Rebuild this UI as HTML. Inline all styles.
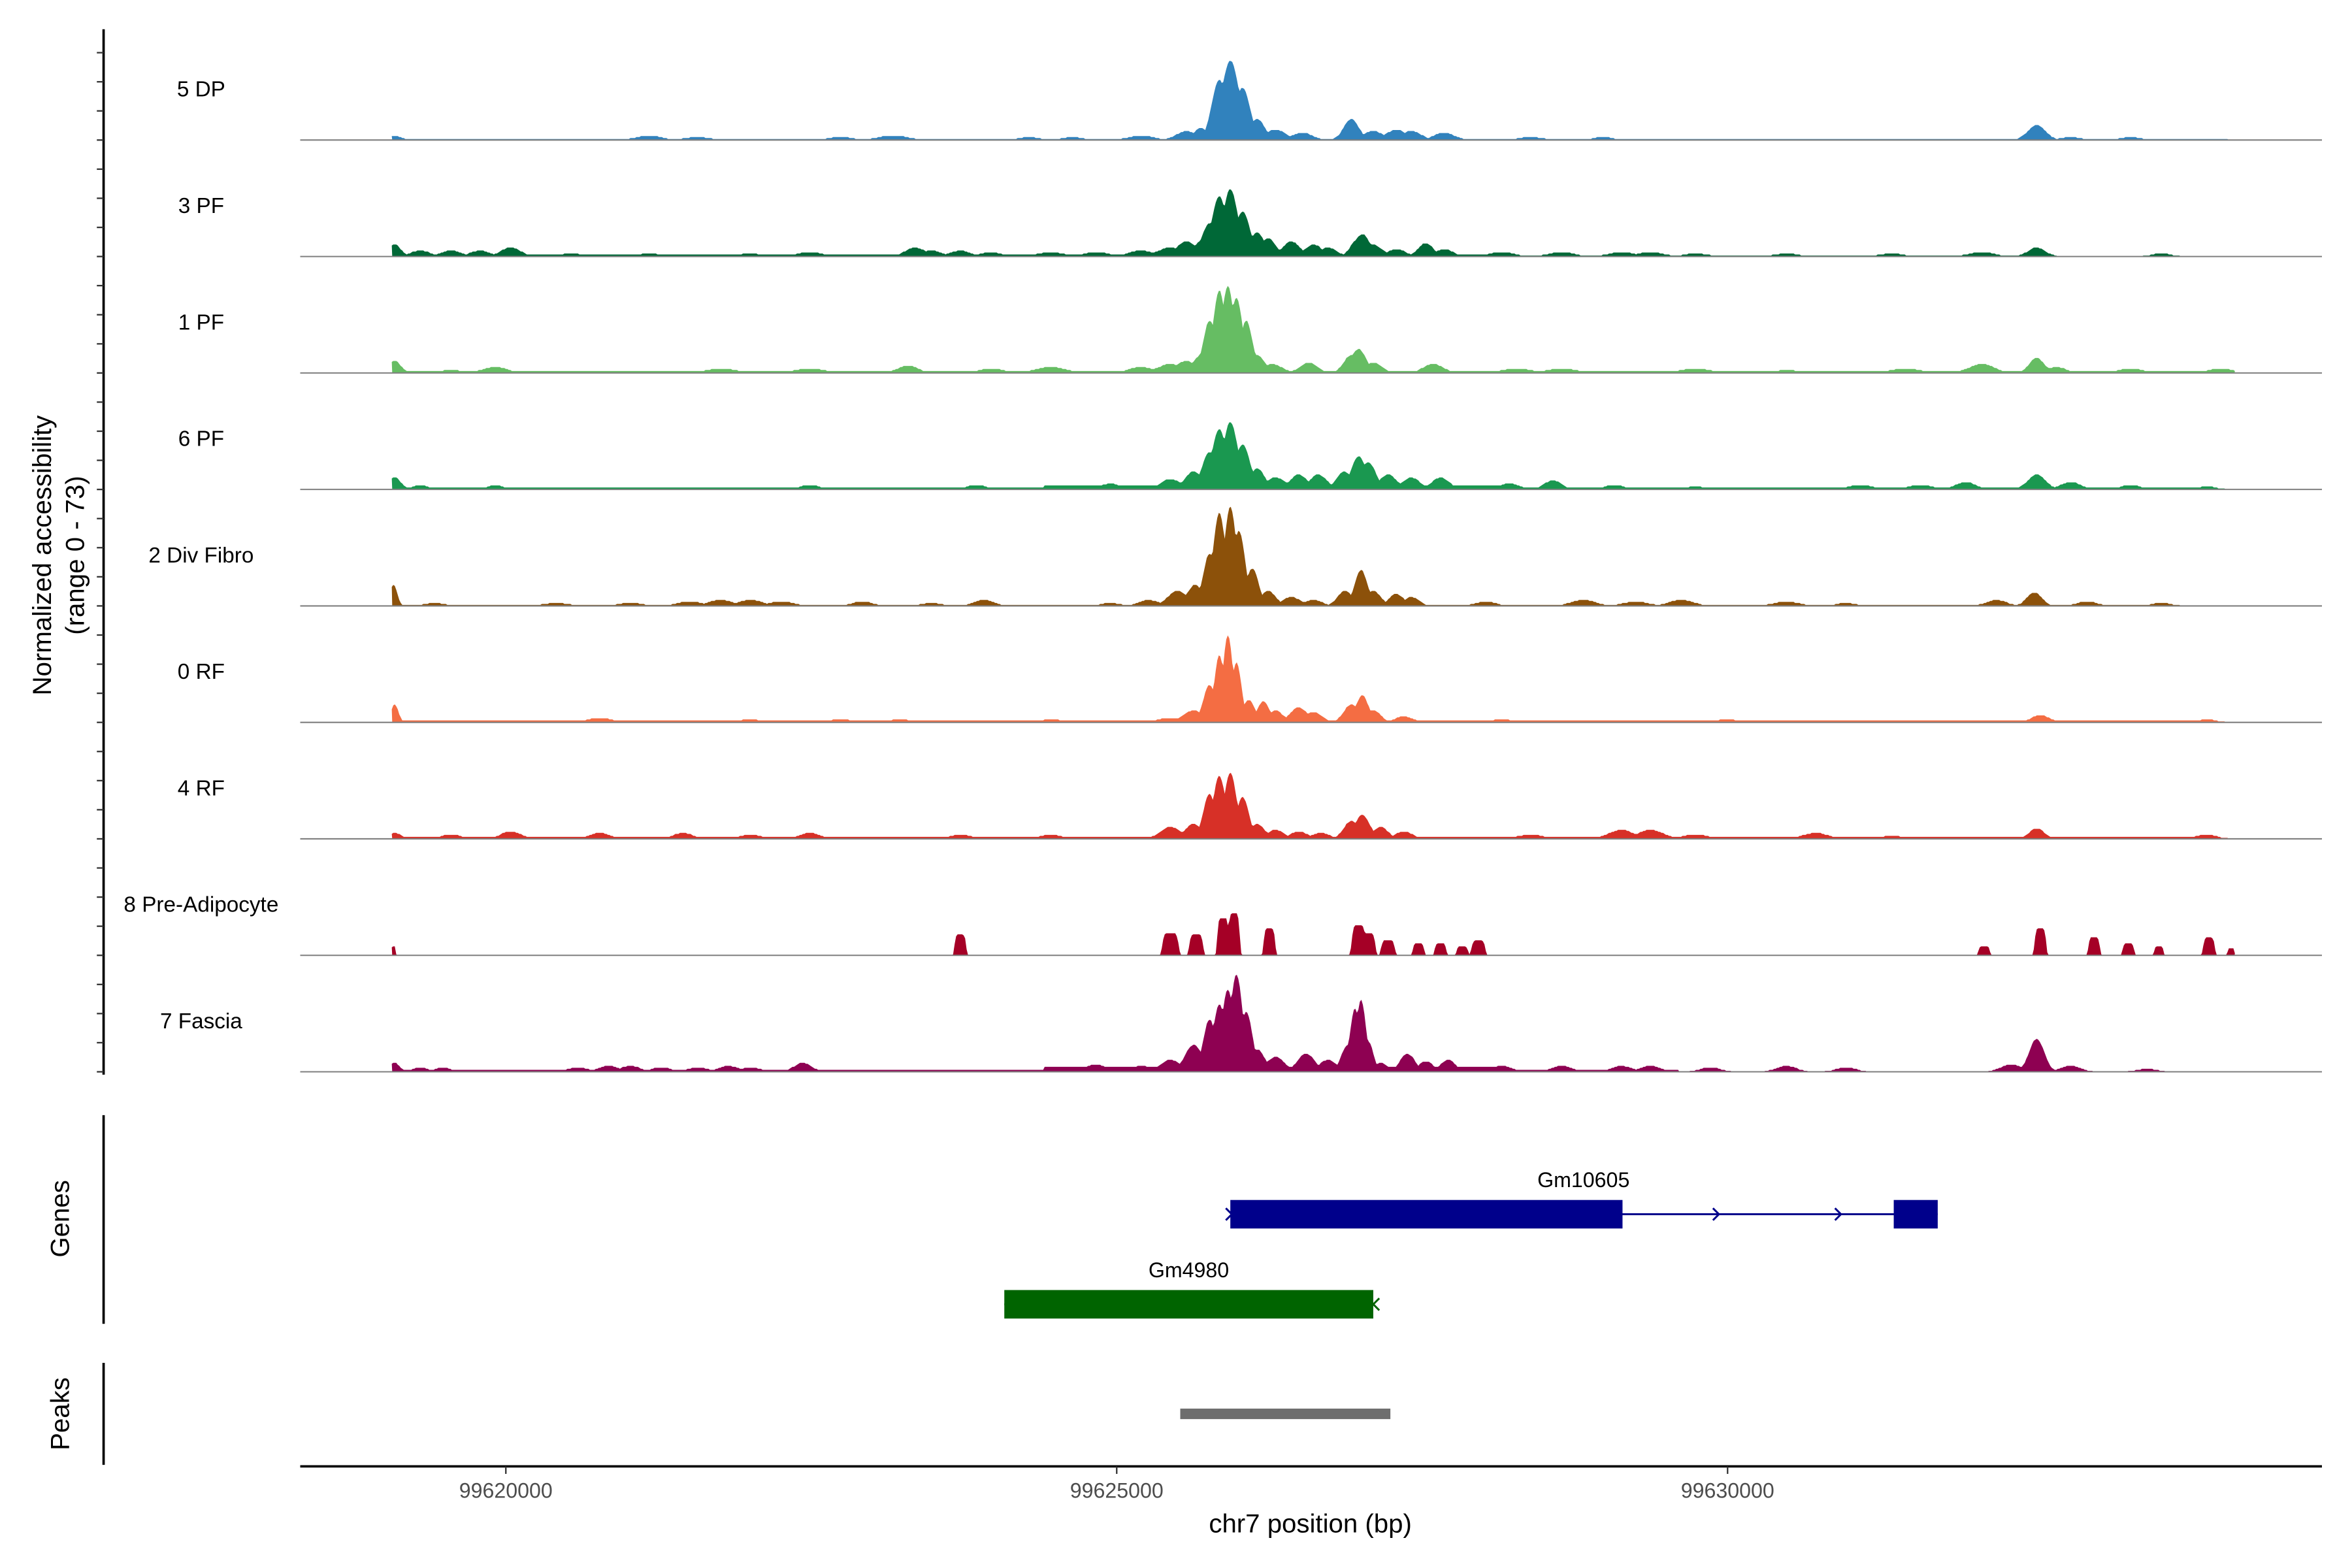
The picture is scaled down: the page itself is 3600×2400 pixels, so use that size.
<!DOCTYPE html>
<html><head><meta charset="utf-8"><style>
html,body{margin:0;padding:0;background:#fff;}
svg{display:block;font-family:"Liberation Sans",sans-serif;}
</style></head><body>
<svg id="chart" width="3600" height="2400" viewBox="0 0 1567 1044.7" xmlns="http://www.w3.org/2000/svg">
<rect x="0" y="0" width="1567" height="1045" fill="#fff"/>
<g id="tracks"></g>
<g id="yaxis"></g>
<text transform="translate(34,370) rotate(-90)" text-anchor="middle" font-size="17.5" fill="#000">Normalized accessibility</text>
<text transform="translate(56,370) rotate(-90)" text-anchor="middle" font-size="17.5" fill="#000">(range 0 - 73)</text>
<line x1="69" y1="743" x2="69" y2="882" stroke="#000" stroke-width="1.6"/>
<text transform="translate(46,812) rotate(-90)" text-anchor="middle" font-size="17.5">Genes</text>
<line x1="69" y1="908" x2="69" y2="976" stroke="#000" stroke-width="1.6"/>
<text transform="translate(46,942) rotate(-90)" text-anchor="middle" font-size="17.5">Peaks</text>
<g id="genes"></g>
<g id="peaks"></g>
<g id="xaxis"></g>
<text x="873" y="1021" text-anchor="middle" font-size="17.5">chr7 position (bp)</text>
</svg>
<script>
// positions in kb offset relative to 99,620,000 bp
const ORIGIN_BP = 99620000;
const trackNames = ["5 DP","3 PF","1 PF","6 PF","2 Div Fibro","0 RF","4 RF","8 Pre-Adipocyte","7 Fascia"];
const trackColors = ["#3182BD","#006837","#66BD63","#1A9850","#8C510A","#F46D43","#D73027","#A50026","#8E0152"];
const xTickValues = [0,5,10];
const xTickLabels = ["99620000","99625000","99630000"];
// peaks: [position kb, height (0-73), sigma kb]
const peaks5DP = [[-0.91,3,0.05],[1.17,3,0.1],[1.57,2,0.1],[2.74,2,0.1],[3.17,3,0.12],[4.28,2,0.08],[4.64,2,0.08],[5.20,3,0.1],[5.57,6,0.08],[5.69,8,0.06],[5.84,40,0.06],[5.93,53,0.07],[6.03,35,0.06],[6.15,14,0.06],[6.30,7,0.08],[6.52,5,0.08],[6.92,14,0.06],[7.10,6,0.08],[7.29,7,0.08],[7.41,6,0.08],[7.68,5,0.08],[8.39,2,0.1],[8.98,2,0.08],[12.53,10,0.07],[12.81,2,0.08],[13.30,2,0.08]];
const peaks3PF = [[-0.91,8,0.05],[-0.70,4,0.08],[-0.45,4,0.08],[-0.21,4,0.08],[0.04,6,0.08],[0.53,2,0.1],[1.17,2,0.1],[2.00,2,0.1],[2.49,3,0.1],[3.35,6,0.08],[3.48,4,0.08],[3.72,4,0.08],[3.97,3,0.08],[4.46,3,0.1],[4.83,3,0.1],[5.20,4,0.1],[5.44,6,0.1],[5.57,10,0.08],[5.69,10,0.06],[5.76,22,0.06],[5.84,40,0.06],[5.93,45,0.06],[6.03,30,0.06],[6.15,16,0.06],[6.24,12,0.06],[6.43,10,0.07],[6.61,8,0.07],[6.73,6,0.07],[6.98,12,0.06],[7.01,15,0.06],[7.10,8,0.07],[7.29,5,0.07],[7.53,9,0.06],[7.68,5,0.07],[8.15,3,0.1],[8.64,3,0.1],[9.13,3,0.1],[9.37,3,0.1],[9.74,2,0.1],[10.48,2,0.1],[11.34,2,0.1],[12.08,3,0.1],[12.53,6,0.07],[13.55,2,0.08]];
const peaks1PF = [[-0.91,8,0.05],[-0.45,2,0.1],[-0.09,4,0.1],[1.76,3,0.12],[2.49,3,0.12],[3.29,5,0.08],[3.97,3,0.1],[4.46,4,0.12],[5.20,4,0.1],[5.44,6,0.1],[5.57,8,0.08],[5.69,12,0.06],[5.76,35,0.05],[5.84,55,0.05],[5.91,58,0.05],[5.98,50,0.05],[6.06,35,0.05],[6.15,12,0.06],[6.27,6,0.08],[6.57,7,0.07],[6.92,12,0.06],[6.98,16,0.06],[7.10,7,0.07],[7.59,6,0.08],[8.27,3,0.12],[8.64,3,0.12],[9.74,3,0.12],[10.48,2,0.1],[11.46,3,0.12],[12.08,6,0.1],[12.53,10,0.06],[12.69,4,0.08],[13.30,3,0.1],[14.04,3,0.1]];
const peaks6PF = [[-0.91,8,0.05],[-0.70,3,0.06],[-0.09,3,0.06],[2.49,3,0.08],[3.85,3,0.08],[4.71,3,0.08],[4.95,4,0.08],[5.44,7,0.08],[5.63,12,0.07],[5.76,25,0.06],[5.84,40,0.06],[5.93,45,0.06],[6.03,30,0.06],[6.15,14,0.06],[6.30,8,0.08],[6.49,10,0.07],[6.65,10,0.07],[6.86,12,0.06],[6.98,22,0.06],[7.06,18,0.06],[7.22,10,0.07],[7.41,8,0.07],[7.65,8,0.07],[7.90,3,0.08],[8.21,4,0.08],[8.57,6,0.07],[9.07,3,0.08],[9.74,2,0.08],[11.09,3,0.1],[11.58,3,0.1],[11.95,5,0.08],[12.53,10,0.07],[12.81,5,0.08],[13.30,3,0.08],[13.92,2,0.08]];
const peaks2DivFibro = [[-0.92,14,0.03],[-0.58,2,0.08],[0.41,2,0.1],[1.02,2,0.1],[1.51,3,0.1],[1.76,4,0.1],[2.00,4,0.1],[2.25,3,0.1],[2.92,3,0.08],[3.48,2,0.08],[3.91,4,0.08],[4.95,2,0.08],[5.26,4,0.08],[5.50,10,0.08],[5.64,14,0.06],[5.76,35,0.05],[5.84,62,0.05],[5.93,66,0.05],[6.00,50,0.05],[6.11,25,0.05],[6.24,10,0.06],[6.43,6,0.07],[6.61,4,0.07],[6.87,10,0.06],[7.00,24,0.05],[7.10,10,0.06],[7.29,8,0.06],[7.41,6,0.06],[8.02,3,0.08],[8.82,4,0.1],[9.25,3,0.1],[9.62,4,0.1],[10.48,3,0.1],[10.97,2,0.08],[12.20,4,0.08],[12.51,9,0.06],[12.94,3,0.08],[13.55,2,0.08]];
const peaks0RF = [[-0.91,12,0.03],[0.77,3,0.1],[2.00,2,0.1],[2.74,2,0.1],[3.23,2,0.1],[4.46,2,0.1],[5.44,3,0.1],[5.63,8,0.08],[5.76,25,0.05],[5.84,45,0.04],[5.91,58,0.04],[5.98,40,0.04],[6.08,15,0.05],[6.20,14,0.05],[6.30,8,0.06],[6.49,10,0.07],[6.61,7,0.07],[6.92,12,0.06],[7.01,18,0.05],[7.10,8,0.06],[7.35,4,0.07],[8.15,2,0.1],[9.99,2,0.1],[12.56,5,0.07],[13.92,2,0.08]];
const peaks4RF = [[-0.91,4,0.05],[-0.45,3,0.08],[0.04,5,0.08],[0.77,4,0.08],[1.45,4,0.08],[2.00,3,0.08],[2.49,4,0.08],[3.72,3,0.08],[4.46,3,0.08],[5.44,8,0.08],[5.63,10,0.07],[5.76,30,0.05],[5.84,42,0.05],[5.93,44,0.05],[6.03,28,0.05],[6.15,10,0.06],[6.30,6,0.07],[6.49,5,0.07],[6.67,4,0.07],[6.92,12,0.06],[7.01,16,0.06],[7.16,8,0.06],[7.35,5,0.07],[8.39,3,0.1],[9.13,6,0.1],[9.37,6,0.1],[9.74,3,0.1],[10.72,4,0.1],[11.34,2,0.1],[12.53,7,0.06],[13.92,3,0.08]];
const peaksPreAdipocyte = [[-0.92,6,0.02],[3.72,14,0.05],[5.44,15,0.07],[5.65,14,0.06],[5.87,25,0.05],[5.96,28,0.05],[6.25,18,0.05],[6.98,20,0.06],[7.06,15,0.06],[7.22,10,0.06],[7.47,8,0.05],[7.65,8,0.05],[7.83,6,0.05],[7.96,10,0.06],[12.10,6,0.05],[12.56,18,0.05],[13.00,12,0.05],[13.28,8,0.05],[13.53,6,0.04],[13.94,12,0.05],[14.12,5,0.03]];
const peaksFascia = [[-0.91,6,0.04],[-0.70,3,0.06],[-0.52,3,0.06],[0.59,3,0.08],[0.84,4,0.08],[1.02,4,0.08],[1.27,3,0.08],[1.57,3,0.08],[1.82,4,0.08],[2.00,3,0.08],[2.43,6,0.07],[4.58,3,0.08],[4.83,5,0.08],[5.20,4,0.08],[5.44,8,0.08],[5.63,18,0.07],[5.76,35,0.05],[5.84,45,0.05],[5.91,55,0.05],[5.98,65,0.05],[6.06,40,0.05],[6.15,15,0.06],[6.30,10,0.07],[6.55,12,0.07],[6.73,8,0.07],[6.89,18,0.05],[6.95,42,0.04],[7.00,48,0.04],[7.06,20,0.04],[7.16,6,0.06],[7.38,12,0.06],[7.53,7,0.06],[7.71,8,0.06],[8.15,4,0.08],[8.64,4,0.08],[9.13,4,0.08],[9.37,4,0.08],[9.86,3,0.08],[10.48,4,0.08],[10.97,3,0.08],[12.32,5,0.08],[12.53,22,0.06],[12.81,4,0.08],[13.43,2,0.08]];
const trackPeaks = [peaks5DP,peaks3PF,peaks1PF,peaks6PF,peaks2DivFibro,peaks0RF,peaks4RF,peaksPreAdipocyte,peaksFascia];
// background: [start kb, end kb, height]
const trackBackground = [[[-0.92,14.1,0.4]],[[-0.92,8.0,1.5],[8.0,12.7,0.8]],[[-0.92,14.1,1.5]],[[-0.92,14.0,1.0],[4.4,8.2,2.5]],[[-0.92,13.6,0.8]],[[-0.92,14.0,1.0]],[[-0.92,14.0,1.5]],[],[[-0.92,9.6,1.5],[4.4,8.2,3]]];
const geneNames = ["Gm10605","Gm4980"];
const geneExons = [[[5.93,9.14],[11.36,11.72]],[[4.08,7.10]]];
const geneStrand = ["+","-"];
const peakRegions = [[5.52,7.24]];

const NS="http://www.w3.org/2000/svg";
const X0=337, PXKB=81.4;
function xs(kb){return X0+kb*PXKB;}
const base0=93.3, step=77.6, yUnit=1.0;
function ys(i,v){return base0+i*step - v*yUnit;}
function mk(tag,attrs,parent){const e=document.createElementNS(NS,tag);for(const k in attrs)e.setAttribute(k,attrs[k]);parent.appendChild(e);return e;}

const tg=document.getElementById('tracks');
trackNames.forEach((name,i)=>{
  const g=mk('g',{},tg);
  
  
  const lbl=mk('text',{x:134,y:ys(i,0)-29,'text-anchor':'middle','font-size':14.5,fill:'#000'},g);
  lbl.textContent=name;
  
  
  const pk=trackPeaks[i], bg=trackBackground[i];
  const block = i===7;
  const sw = block?1.0:1.45;
  let d='M'+xs(-0.93)+','+ys(i,0);
  for(let px=Math.floor(xs(-0.93)); px<=Math.ceil(xs(14.15)); px+=1){
    const kb=(px-X0)/PXKB;
    let v=0;
    bg.forEach(b=>{if(kb>=b[0]&&kb<=b[1]) v=Math.max(v,b[2]);});
    pk.forEach(p=>{const z=(kb-p[0])/(p[2]*sw);const s=block?Math.exp(-Math.pow(z*z,3)):Math.exp(-z*z);v=Math.max(v,p[1]*s);});
    if(v<0.3)v=0;
    v=Math.round(v*1.5)/1.5;
    d+='L'+px+','+ys(i,v).toFixed(2);
  }
  d+='L'+xs(14.15)+','+ys(i,0)+'Z';
  const area=mk('path',{d:d,fill:trackColors[i],stroke:'none'},g);
  
  
  const bl=mk('line',{x1:200,x2:1547,y1:ys(i,0),y2:ys(i,0),stroke:'#7f7f7f','stroke-width':0.9},g);
  
  
});

const ya=document.getElementById('yaxis');
const yl=mk('line',{x1:69,x2:69,y1:19.5,y2:716,stroke:'#000','stroke-width':1.6},ya);


for(let k=0;k<37;k++){
  const y=base0-3*step/4+k*step/4;
  if(y>716)break;
  const t=mk('line',{x1:64.5,x2:69,y1:y,y2:y,stroke:'#333','stroke-width':1},ya);
  
  
}

const gg=document.getElementById('genes');
const geneY=[809,869], geneLabelY=[791,851];
geneNames.forEach((n,i)=>{
  const col=i===0?'#00008B':'#006400';
  const ex=geneExons[i];
  const g=mk('g',{},gg);
  
  
  const s=ex[0][0], e=ex[ex.length-1][1];
  mk('line',{x1:xs(s),x2:xs(e),y1:geneY[i],y2:geneY[i],stroke:col,'stroke-width':1.3},g);
  ex.forEach(x=>{const r=mk('rect',{x:xs(x[0]),y:geneY[i]-9.5,width:xs(x[1])-xs(x[0]),height:19,fill:col},g);
    
    });
  if(geneStrand[i]==='+'){
    for(let a=0;a<ex.length-1;a++){
      const x1=xs(ex[a][1]),x2=xs(ex[a+1][0]);
      [0.35,0.8].forEach(f=>{const ax=x1+(x2-x1)*f;mk('path',{d:`M${ax-3},${geneY[i]-4}L${ax+1},${geneY[i]}L${ax-3},${geneY[i]+4}`,fill:'none',stroke:col,'stroke-width':1.3},g);});
    }
    mk('path',{d:`M${xs(s)-3},${geneY[i]-4}L${xs(s)+1},${geneY[i]}L${xs(s)-3},${geneY[i]+4}`,fill:'none',stroke:col,'stroke-width':1.3},g);
  } else {
    mk('path',{d:`M${xs(e)+4},${geneY[i]-4}L${xs(e)},${geneY[i]}L${xs(e)+4},${geneY[i]+4}`,fill:'none',stroke:col,'stroke-width':1.3},g);
  }
  const t=mk('text',{x:i===0?1055:792,y:geneLabelY[i],'text-anchor':'middle','font-size':14},g);
  t.textContent=n;
  
  
});

const pg=document.getElementById('peaks');
peakRegions.forEach(p=>{
  const r=mk('rect',{x:xs(p[0]),y:938.5,width:xs(p[1])-xs(p[0]),height:7,fill:'#6e6e6e'},pg);
  
  
});

const xa=document.getElementById('xaxis');
const xl=mk('line',{x1:200,x2:1547,y1:977,y2:977,stroke:'#000','stroke-width':1.6},xa);


xTickValues.forEach((v,i)=>{
  const tk=mk('line',{x1:xs(v),x2:xs(v),y1:977,y2:982,stroke:'#333','stroke-width':1},xa);
  
  
  const t=mk('text',{x:xs(v),y:998,'text-anchor':'middle','font-size':14,fill:'#4d4d4d'},xa);
  t.textContent=xTickLabels[i];
  
  
});
</script>
</body></html>
